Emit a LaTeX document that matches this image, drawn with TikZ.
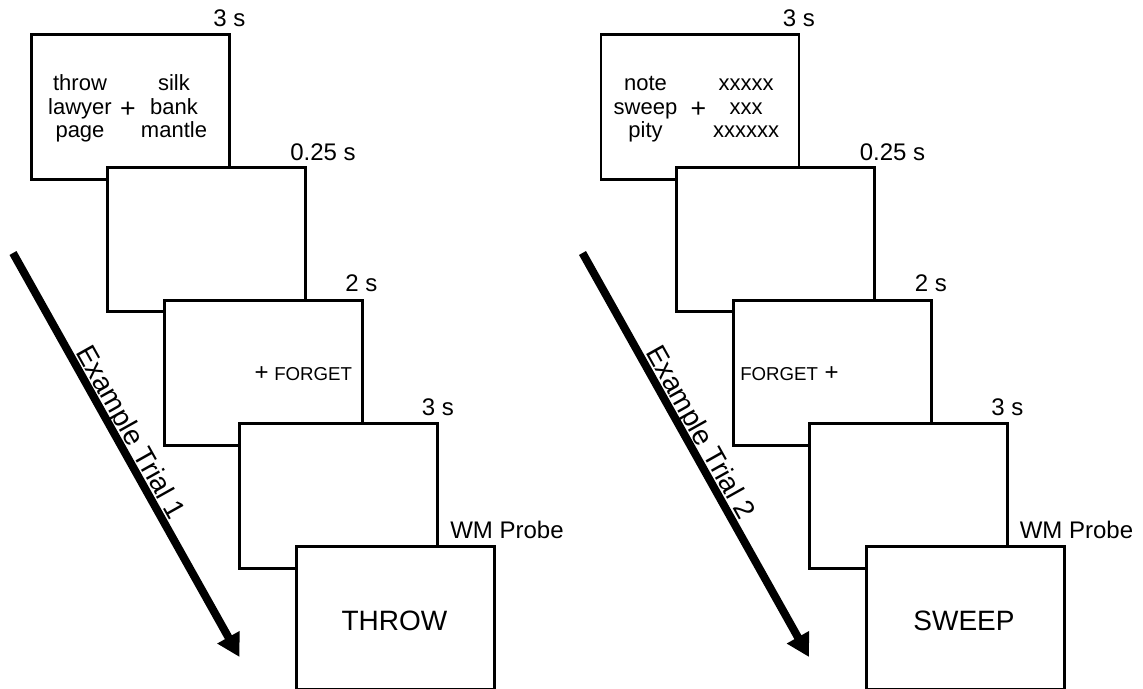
\documentclass[tikz,border=0pt]{standalone}
\usepackage{fontspec}
\setmainfont{Liberation Sans}
\usetikzlibrary{arrows.meta}
\begin{document}
\begin{tikzpicture}[x=0.75pt,y=-0.75pt,
  screen/.style={draw, line width=2.2pt, fill=white, minimum width=148.5pt, minimum height=108.5pt, inner sep=0pt, anchor=north west},
  tlabel/.style={anchor=base west, inner sep=0pt, font=\fontsize{18}{18}\selectfont},
  word/.style={anchor=base, inner sep=0pt, font=\fontsize{16.5}{16.5}\selectfont},
  bigplus/.style={anchor=center, inner sep=0pt, font=\fontsize{20}{20}\selectfont},
  smallplus/.style={anchor=center, inner sep=0pt, font=\fontsize{18}{18}\selectfont},
  forget/.style={anchor=base west, inner sep=0pt, font=\fontsize{14}{14}\selectfont},
  probe/.style={anchor=base, inner sep=0pt, font=\fontsize{21}{21}\selectfont},
  timearrow/.style={line width=6pt, -{Triangle[length=17pt,width=18pt]}},
  triallabel/.style={rotate=-60.72, anchor=base, inner sep=0pt, font=\fontsize{21}{21}\selectfont}
]
\useasboundingbox (0,0) rectangle (1143,689);

% ---------- left panel ----------
\node[screen] (b1) at (30,33) {};
\node[tlabel] (t1) at (213,26.7) {3 s};
\node[word] (w1a) at (80,90) {throw};
\node[word] (w1b) at (80,114.5) {lawyer};
\node[word] (w1c) at (80,137.5) {page};
\node[bigplus] (p1) at (128,110) {+};
\node[word] (w1d) at (174,90) {silk};
\node[word] (w1e) at (174,114.5) {bank};
\node[word] (w1f) at (174,137.5) {mantle};

\node[screen] (b2) at (105.7,165.7) {};
\node[tlabel] (t2) at (290,160) {0.25 s};

\node[screen] (b3) at (162.7,299.3) {};
\node[tlabel] (t3) at (345,291.7) {2 s};
\node[smallplus] (p2) at (261.7,373.3) {+};
\node[forget] (f1) at (274,380.7) {FORGET};

\node[screen] (b4) at (238.3,422.3) {};
\node[tlabel] (t4) at (421.7,415) {3 s};

\node[screen, minimum height=107pt] (b5) at (295.3,545) {};
\node[tlabel] (t5) at (450,538.3) {WM Probe};
\node[probe] (q1) at (394.5,630) {THROW};

\coordinate (a1s) at (13,253);
\coordinate (a1e) at (239.5,657);
\draw[timearrow] (a1s) -- (a1e);
\node[triallabel] (l1) at (123,437) {Example Trial 1};

% ---------- right panel ----------
\node[screen] (c1) at (599.5,33) {};
\node[tlabel] (u1) at (782.5,26.7) {3 s};
\node[word] (v1a) at (645.5,90) {note};
\node[word] (v1b) at (645.5,114.5) {sweep};
\node[word] (v1c) at (645.5,137.5) {pity};
\node[bigplus] (r1) at (698.3,110) {+};
\node[word] (v1d) at (746,90) {xxxxx};
\node[word] (v1e) at (746,114.5) {xxx};
\node[word] (v1f) at (746,137.5) {xxxxxx};

\node[screen] (c2) at (675.2,165.7) {};
\node[tlabel] (u2) at (859.5,160) {0.25 s};

\node[screen] (c3) at (732.2,299.3) {};
\node[tlabel] (u3) at (914.5,291.7) {2 s};
\node[forget] (g1) at (740,380.7) {FORGET};
\node[smallplus] (r2) at (831.7,373.3) {+};

\node[screen] (c4) at (807.8,422.3) {};
\node[tlabel] (u4) at (991.2,415) {3 s};

\node[screen, minimum height=107pt] (c5) at (864.8,545) {};
\node[tlabel] (u5) at (1019.5,538.3) {WM Probe};
\node[probe] (q2) at (964,630) {SWEEP};

\coordinate (a2s) at (582.5,253);
\coordinate (a2e) at (809,657);
\draw[timearrow] (a2s) -- (a2e);
\node[triallabel] (l2) at (692.5,437) {Example Trial 2};
\end{tikzpicture}
\end{document}
